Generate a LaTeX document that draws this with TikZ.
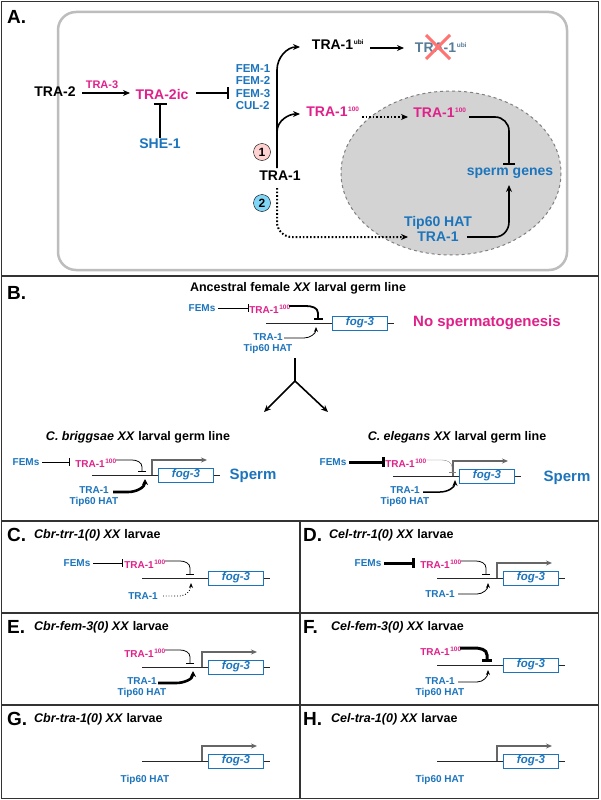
\documentclass[tikz,border=0pt]{standalone}
\usepackage{fontspec}
\setmainfont{Liberation Sans}
\usetikzlibrary{arrows.meta,calc,positioning}
\definecolor{mag}{HTML}{E0218A}
\definecolor{blu}{HTML}{1C75BC}
\definecolor{rgray}{HTML}{BDBDBD}
\definecolor{efill}{HTML}{D3D3D3}
\tikzset{
  t/.style={font=\bfseries\fontsize{14}{14}\selectfont,inner sep=1pt},
  tm/.style={t,text=mag}, tb/.style={t,text=blu},
  s/.style={font=\bfseries\fontsize{10}{11}\selectfont,inner sep=1pt,align=center},
  sm/.style={s,text=mag}, sb/.style={s,text=blu},
  ttl/.style={font=\bfseries\fontsize{12.5}{12.5}\selectfont,anchor=west,inner sep=0pt},
  lab/.style={font=\bfseries\fontsize{19}{19}\selectfont,anchor=west,inner sep=0pt},
  act/.style={-{Stealth[length=7pt,width=6pt]},line width=1.6pt},
  inh/.style={-{Bar[width=12pt,line width=2pt]},line width=1.6pt},
  dact/.style={act,dotted,line width=2pt},
  sact/.style={-{Stealth[length=5pt,width=4pt]},line width=0.8pt},
  sinh/.style={-{Bar[width=8pt,line width=1.2pt]},line width=0.8pt},
  tinh/.style={-{Bar[width=10pt,line width=3pt]},line width=3pt},
  tact/.style={-{Stealth[length=6pt,width=6pt]},line width=2.6pt},
  geneline/.style={line width=0.9pt,black!85},
  genebox/.style={draw=blu,line width=0.9pt,fill=white,minimum width=55pt,minimum height=14pt,inner sep=0pt,font=\bfseries\itshape\fontsize{11.5}{11.5}\selectfont,text=blu},
  prom/.style={-{Stealth[length=6pt,width=5pt]},line width=1.3pt,gray!80!black},
}
\newcommand\sps[1]{\kern0.6pt\textsuperscript{\fontsize{6.5}{6.5}\selectfont #1}}
\newcommand\fogline[3]{%
  \coordinate (#3l) at (#1,#2);
  \node[genebox] (#3b) at (#1+94,#2) {fog-3};
  \coordinate (#3r) at (#1+128,#2);
  \draw[geneline] (#3l) -- (#3b.west);
  \draw[geneline] (#3b.east) -- (#3r);}
\newcommand\promo[3]{%
  \coordinate (#3p) at (#1+60,#2);
  \draw[prom] (#3p) -- ++(0,-15) -- ++(55,0);}
\begin{document}
\begin{tikzpicture}[x=1pt,y=-1pt]
\useasboundingbox (0,0) rectangle (600,800);
\fill[white] (0,0) rectangle (600,800);
% panel frames
\draw[line width=1.2pt,black!80] (1.5,1.5) rectangle (598.5,798.5);
\draw[line width=1.2pt,black!80] (1.5,276) -- (598.5,276);
\draw[line width=1.2pt,black!80] (1.5,521) -- (598.5,521);
\draw[line width=1.2pt,black!80] (1.5,613) -- (598.5,613);
\draw[line width=1.2pt,black!80] (1.5,705) -- (598.5,705);
\draw[line width=1.2pt,black!80] (300,521) -- (300,798.5);
% ---------------- A
\node[lab] (la) at (7,17) {A.};
\draw[rgray,line width=2.5pt,rounded corners=18pt] (58,12) rectangle (567,270);
\fill[efill] (451,173) ellipse (110 and 82);
\draw[gray,dashed,line width=1pt] (451,173) ellipse (110 and 82);
\node[t] (tra2) at (55,92) {TRA-2};
\node[tm] (tra2ic) at (162,94) {TRA-2ic};
\node[sm,font=\bfseries\fontsize{11}{11}\selectfont] (tra3) at (102,85) {TRA-3};
\draw[act] (82,93) -- (130,93);
\node[tb] (she1) at (160,144) {SHE-1};
\draw[-{Bar[width=13pt,line width=2.4pt]},line width=2pt] (she1.north) -- (160,103);
\node[tb,align=left,font=\bfseries\fontsize{11.5}{12.4}\selectfont] (fem) at (253,87) {FEM-1\\FEM-2\\FEM-3\\CUL-2};
\draw[inh] (196,93) -- (229,93);
\node[t] (tra1) at (280,176) {TRA-1};
\node[t] (ubi) at (338,45) {TRA-1\sps{ubi}};
\node[t,text=gray!60!blu] (ubix) at (441,48) {TRA-1\sps{ubi}};
\draw[red!55,line width=3pt] (426,35) -- (450,59) (450,35) -- (426,59);
\draw[act] (370,48) -- (404,48);
\node[tm] (t100a) at (333,112) {TRA-1\sps{100}};
\node[tm] (t100b) at (440,113) {TRA-1\sps{100}};
\draw[act] (277,168) -- (277,70) to[out=90,in=180] (300,47);
\draw[act] (277,150) -- (277,132) to[out=90,in=180] (300,114);
\draw[dact] (362,117) -- (408,117);
\draw[inh] (469,117) -- (495,117) to[out=0,in=90] (509,131) -- (509,165);
\node[tb] (sg) at (510,173) {sperm genes};
\node[tb,align=center,font=\bfseries\fontsize{14}{15.5}\selectfont] (tip) at (438,229) {Tip60 HAT\\TRA-1};
\draw[act] (467,237) -- (495,237) to[out=0,in=-90] (509,222) -- (509,185);
\draw[dact] (277,188) -- (277,222) to[out=-90,in=180] (292,237) -- (408,237);
\node[circle,draw,fill=pink!70,inner sep=0pt,minimum size=17pt,font=\bfseries\fontsize{12}{12}\selectfont] (c1) at (262,152) {1};
\node[circle,draw,fill=cyan!50,inner sep=0pt,minimum size=17pt,font=\bfseries\fontsize{12}{12}\selectfont] (c2) at (262,203) {2};
% ---------------- B
\node[lab] (lb) at (7,293) {B.};
\node[font=\bfseries\fontsize{12.5}{12.5}\selectfont] (bt) at (298,288) {Ancestral female \textit{XX} larval germ line};
\fogline{266}{323}{g0}
\node[sb] (f0) at (202,308) {FEMs};
\node[sm] (r0) at (270,309) {TRA-1\sps{100}};
\draw[sinh] (218,308) -- (249,308);
\draw[-{Bar[width=9pt,line width=2.2pt]},line width=1.8pt] (289,306) -- (306,306) to[out=0,in=90] (318,313) -- (318,320);
\node[sb] (q0) at (268,344) {TRA-1\\Tip60 HAT};
\draw[sact] (284,338) -- (304,338) to[out=0,in=-90] (316,327);
\node[font=\bfseries\fontsize{15}{15}\selectfont,text=mag] (ns) at (487,323) {No spermatogenesis};
\coordinate (fk) at (295,381);
\draw[line width=1.8pt] (295,358) -- (fk);
\draw[act] (fk) -- (264,412);
\draw[act] (fk) -- (328,412);
\node[font=\bfseries\fontsize{12.5}{12.5}\selectfont] (bl) at (138,437) {\textit{C. briggsae XX} larval germ line};
\node[font=\bfseries\fontsize{12.5}{12.5}\selectfont] (br) at (457,437) {\textit{C. elegans XX} larval germ line};
% briggsae
\fogline{92}{475}{g1}\promo{92}{475}{g1}
\node[sb] (f1) at (26,462) {FEMs};
\draw[sinh] (42,462) -- (70,462);
\node[sm] (r1) at (96,463) {TRA-1\sps{100}};
\draw[sinh] (116,460) -- (132,460) to[out=0,in=90] (142,467) -- (142,472);
\node[sb] (q1) at (94,497) {TRA-1\\Tip60 HAT};
\draw[tact] (113,492) -- (128,492) to[out=0,in=-90] (145,479);
\node[font=\bfseries\fontsize{15}{15}\selectfont,text=blu] (sp1) at (253,476) {Sperm};
% elegans
\fogline{393}{476}{g2}\promo{393}{476}{g2}
\node[sb] (f2) at (333,462) {FEMs};
\draw[tinh] (349,462) -- (385,462);
\node[sm] (r2) at (406,463) {TRA-1\sps{100}};
\draw[-{Bar[width=7pt,line width=0.8pt]},line width=0.35pt,gray] (426,460) -- (442,460) to[out=0,in=90] (452,467) -- (452,473);
\node[sb] (q2) at (405,497) {TRA-1\\Tip60 HAT};
\draw[-{Stealth[length=6pt,width=5pt]},line width=1.5pt] (423,492) -- (440,492) to[out=0,in=-90] (455,480);
\node[font=\bfseries\fontsize{15}{15}\selectfont,text=blu] (sp2) at (567,478) {Sperm};
% ---------------- C
\node[lab] (lc) at (7,535) {C.};
\node[ttl] (tc) at (34,535) {\textit{Cbr-trr-1(0) XX} larvae};
\fogline{142}{578}{g3}
\node[sb] (f3) at (77,563) {FEMs};
\draw[sinh] (93,563) -- (123,563);
\node[sm] (r3) at (145,564) {TRA-1\sps{100}};
\draw[sinh] (165,561) -- (180,561) to[out=0,in=90] (190,568) -- (190,575);
\node[sb] (q3) at (143,596) {TRA-1};
\draw[sact,dotted,line width=0.9pt] (163,596) -- (180,596) to[out=0,in=-90] (191,583);
% ---------------- D
\node[lab] (ld) at (303,535) {D.};
\node[ttl] (td) at (329,535) {\textit{Cel-trr-1(0) XX} larvae};
\fogline{437}{578}{g4}\promo{437}{578}{g4}
\node[sb] (f4) at (368,563) {FEMs};
\draw[tinh] (384,563) -- (415,563);
\node[sm] (r4) at (441,564) {TRA-1\sps{100}};
\draw[sinh] (461,561) -- (476,561) to[out=0,in=90] (486,568) -- (486,575);
\node[sb] (q4) at (440,594) {TRA-1};
\draw[sact] (458,594) -- (477,594) to[out=0,in=-90] (488,583);
% ---------------- E
\node[lab] (le) at (7,627) {E.};
\node[ttl] (te) at (34,627) {\textit{Cbr-fem-3(0) XX} larvae};
\fogline{142}{667}{g5}\promo{142}{667}{g5}
\node[sm] (r5) at (145,653) {TRA-1\sps{100}};
\draw[sinh] (165,650) -- (180,650) to[out=0,in=90] (190,657) -- (190,664);
\node[sb] (q5) at (142,688) {TRA-1\\Tip60 HAT};
\draw[tact] (158,683) -- (176,683) to[out=0,in=-90] (193,671);
% ---------------- F
\node[lab] (lf) at (303,627) {F.};
\node[ttl] (tf) at (331,627) {\textit{Cel-fem-3(0) XX} larvae};
\fogline{437}{665}{g6}
\node[sm] (r6) at (441,651) {TRA-1\sps{100}};
\draw[tinh] (460,648) -- (474,648) to[out=0,in=90] (487,655) -- (487,662);
\node[sb] (q6) at (440,688) {TRA-1\\Tip60 HAT};
\draw[sact] (458,682) -- (477,682) to[out=0,in=-90] (488,670);
% ---------------- G
\node[lab] (lg) at (7,719) {G.};
\node[ttl] (tg) at (34,719) {\textit{Cbr-tra-1(0) XX} larvae};
\fogline{142}{761}{g7}\promo{142}{761}{g7}
\node[sb] (q7) at (145,780) {Tip60 HAT};
% ---------------- H
\node[lab] (lh) at (303,719) {H.};
\node[ttl] (th) at (331,719) {\textit{Cel-tra-1(0) XX} larvae};
\fogline{437}{761}{g8}\promo{437}{761}{g8}
\node[sb] (q8) at (440,780) {Tip60 HAT};
\end{tikzpicture}
\end{document}
